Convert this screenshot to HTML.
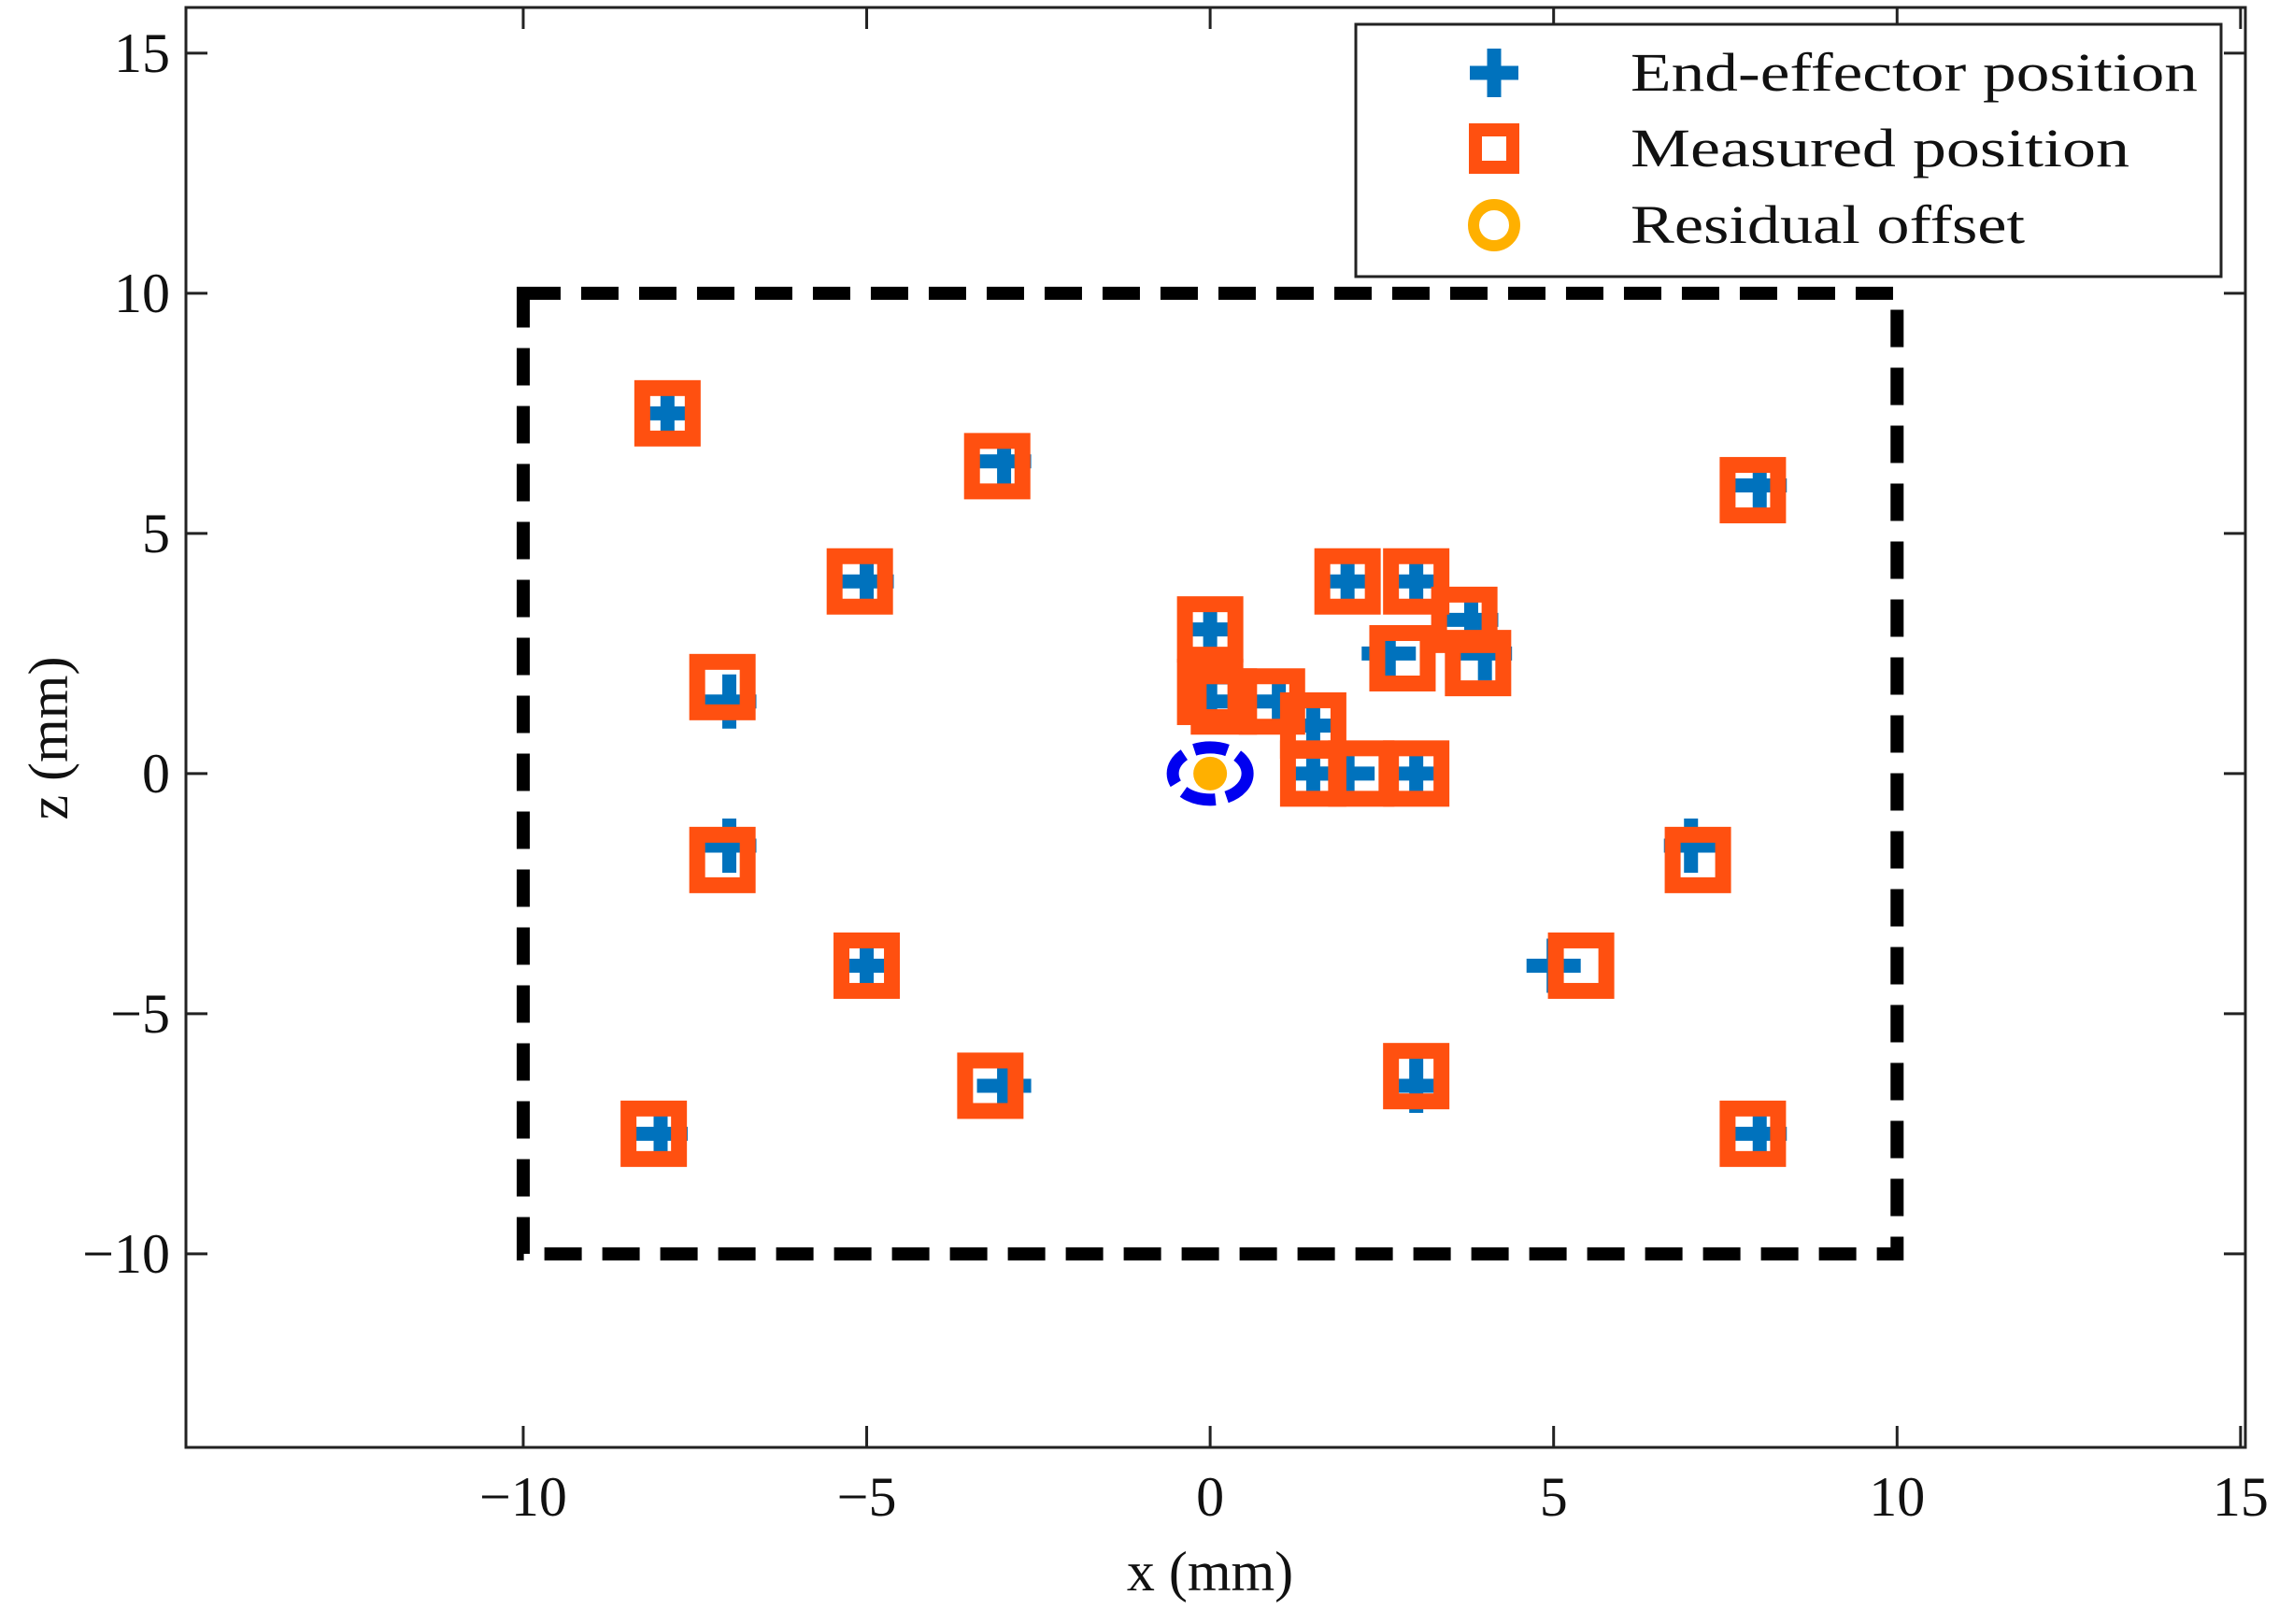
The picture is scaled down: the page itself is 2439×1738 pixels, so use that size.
<!DOCTYPE html>
<html><head><meta charset="utf-8"><style>
html,body{margin:0;padding:0;background:#fff;}
svg text{font-family:"Liberation Serif",serif;fill:#111;}
</style></head><body>
<svg id="chart" width="2439" height="1733" viewBox="0 0 2439 1733" xmlns="http://www.w3.org/2000/svg"></svg>
<script>
const xTicks=[-10,-5,0,5,10,15];
const yTicks=[15,10,5,0,-5,-10];
const effX=[-7.9,-3,-5,-7,-7,-5,-3,-8,0,0,0,1,1.5,1.5,2,3,2,3,3.8,2.6,4,8,7,5,3,8];
const effZ=[7.5,6.5,4,1.5,-1.5,-4,-6.5,-7.5,3,2,1.5,1.5,1,0,0,0,4,4,3.2,2.5,2.5,6,-1.5,-4,-6.5,-7.5];
const measX=[-7.9,-3.1,-5.1,-7.1,-7.1,-5,-3.2,-8.1,0,0,0.2,0.9,1.5,1.5,2.2,3,2,3,3.7,2.8,3.9,7.9,7.1,5.4,3,7.9];
const measZ=[7.5,6.4,4,1.8,-1.8,-4,-6.5,-7.5,3,1.7,1.5,1.5,1,0,0,0,4,4,3.2,2.4,2.3,5.9,-1.8,-4,-6.3,-7.5];
const residX=[0.0];
const residZ=[0.0];
const boundsX=[-10,10];
const boundsZ=[-10,10];

const L=199,R=2403,T=8,B=1549;
const xMin=-14.91,xMax=15.07,yMin=-14.03,yMax=15.95;
const sx=v=>L+(v-xMin)/(xMax-xMin)*(R-L);
const sy=v=>B-(v-yMin)/(yMax-yMin)*(B-T);
const svg=document.getElementById('chart');
const NS='http://www.w3.org/2000/svg';
function mk(tag,attrs,parent){const e=document.createElementNS(NS,tag);for(const k in attrs)e.setAttribute(k,attrs[k]);(parent||svg).appendChild(e);return e;}

let box=mk('rect',{x:L,y:T,width:R-L,height:B-T,fill:'none',stroke:'#222','stroke-width':3});



xTicks.forEach(t=>{
  const x=sx(t);
  let tk=mk('path',{d:`M${x},${B}V${B-23}M${x},${T}V${T+23}`,stroke:'#222','stroke-width':3});
  
  
  let lb=mk('text',{x:x,y:1622,'font-size':60,'text-anchor':'middle'});
  lb.textContent=t<0?'\u2212'+Math.abs(t):String(t);
  
  
});
yTicks.forEach(t=>{
  const y=sy(t);
  let tk=mk('path',{d:`M${L},${y}H${L+23}M${R},${y}H${R-23}`,stroke:'#222','stroke-width':3});
  
  
  let lb=mk('text',{x:182,y:y+20,'font-size':60,'text-anchor':'end'});
  lb.textContent=t<0?'\u2212'+Math.abs(t):String(t);
  
  
});
let xl=mk('text',{x:1295,y:1702,'font-size':60,'text-anchor':'middle'});
xl.textContent='x (mm)';


let yl=mk('text',{x:0,y:0,'font-size':60,'text-anchor':'middle',transform:'translate(72,790) rotate(-90)'});
yl.textContent='z (mm)';



let bd=mk('rect',{x:sx(boundsX[0]),y:sy(boundsZ[1]),width:sx(boundsX[1])-sx(boundsX[0]),height:sy(boundsZ[0])-sy(boundsZ[1]),fill:'none',stroke:'#000','stroke-width':14,'stroke-dasharray':'40 22'});



effX.forEach((v,i)=>{
  const x=sx(v),y=sy(effZ[i]);
  let p=mk('path',{d:`M${x-29},${y}H${x+29}M${x},${y-29}V${y+29}`,stroke:'#0072BD','stroke-width':15});
  
  
});
measX.forEach((v,i)=>{
  const x=sx(v),y=sy(measZ[i]);
  let r=mk('rect',{x:x-27,y:y-27,width:54,height:54,fill:'none',stroke:'#FF5010','stroke-width':17});
  
  
});
residX.forEach((v,i)=>{
  const x=sx(v),y=sy(residZ[i]);
  let f=mk('circle',{cx:x,cy:y,r:18,fill:'#FFB000'});
  
  
  let e=mk('ellipse',{cx:x,cy:y,rx:40,ry:28,fill:'none',stroke:'#0000F0','stroke-width':13,'stroke-dasharray':'36 12'});
  
  
});

const lg=mk('g',{});


mk('rect',{x:1451,y:26,width:926,height:270,fill:'#fff',stroke:'#222','stroke-width':3},lg);
const names=['End-effector position','Measured position','Residual offset'];
const lens=[607,534,422];
const ly=[78,159,241];
names.forEach((n,i)=>{
  const g=mk('g',{},lg);
  
  
  const x=1599,y=ly[i];
  if(i===0) mk('path',{d:`M${x-26},${y}H${x+26}M${x},${y-26}V${y+26}`,stroke:'#0072BD','stroke-width':15},g);
  if(i===1) mk('rect',{x:x-20,y:y-20,width:40,height:40,fill:'none',stroke:'#FF5010','stroke-width':14},g);
  if(i===2) mk('circle',{cx:x,cy:y,r:22,fill:'none',stroke:'#FFB000','stroke-width':12},g);
  const t=mk('text',{x:1745,y:y+19,'font-size':58,textLength:lens[i],lengthAdjust:'spacingAndGlyphs'},g);
  t.textContent=n;
});
</script>
</body></html>
